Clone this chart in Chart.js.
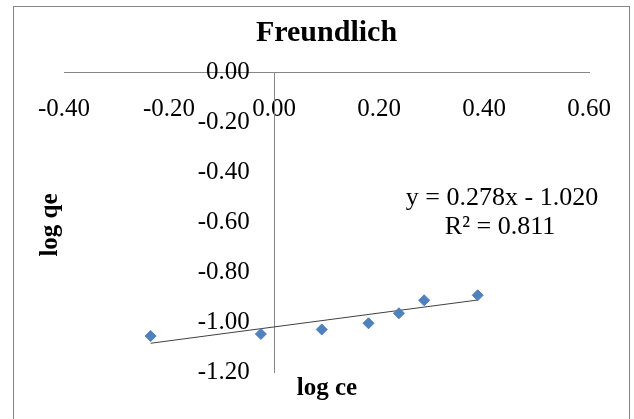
<!DOCTYPE html>
<html>
<head>
<meta charset="utf-8">
<script src="https://cdn.jsdelivr.net/npm/chart.js@4/dist/chart.umd.min.js"></script>
<style>
  html, body { margin: 0; padding: 0; background: #fff; }
  #wrap { width: 634px; height: 419px; }
</style>
</head>
<body>
<div id="wrap"><canvas id="freundlich" width="634" height="419"></canvas></div>
<script>
// values
const logCe = [-0.235, -0.025, 0.091, 0.180, 0.238, 0.286, 0.388];
const logQe = [-1.056, -1.048, -1.030, -1.005, -0.965, -0.913, -0.893];

// linear trendline ends (y = 0.278x - 1.020)
const trendCe = [-0.235, 0.388];
const trendQe = [-1.085, -0.912];

const xMin = -0.4, xMax = 0.6, xStep = 0.2;
const yMin = -1.2, yMax = 0, yStep = 0.2;

const titleText = 'Freundlich';
const xTitle = 'log ce';
const yTitle = 'log qe';
const equation = ['y = 0.278x - 1.020', 'R\u00b2 = 0.811'];

const serif = "'Liberation Serif', 'Times New Roman', serif";

const points = logCe.map((x, i) => ({ x: x, y: logQe[i] }));
const trend = trendCe.map((x, i) => ({ x: x, y: trendQe[i] }));

// border, axis titles and the equation label
const extras = {
    id: 'extras',
    beforeDraw(chart) {
        const c = chart.ctx;
        c.save();
        c.strokeStyle = '#868686';
        c.lineWidth = 1;
        c.strokeRect(13.5, 6.5, 616, 440);
        c.restore();
    },
    afterDraw(chart) {
        const c = chart.ctx;
        c.save();
        c.fillStyle = '#000';
        c.textAlign = 'center';
        c.textBaseline = 'alphabetic';

        c.font = 'bold 25px ' + serif;
        c.fillText(xTitle, 327, 395);

        c.save();
        c.translate(57, 225);
        c.rotate(-Math.PI / 2);
        c.fillText(yTitle, 0, 0);
        c.restore();

        c.font = '26px ' + serif;
        c.fillText(equation[0], 502, 205);
        c.fillText(equation[1], 500, 234);
        c.restore();
    }
};

const tickFont = { size: 25, family: serif };
const fmt = v => Number(v).toFixed(2);

const ctx = document.getElementById('freundlich');

new Chart(ctx, {
    type: 'scatter',
    data: {
        datasets: [{
            label: 'data',
            data: points,
            pointStyle: 'rectRot',
            pointRadius: 5.5,
            backgroundColor: '#4F81BD',
            borderColor: '#4F81BD',
            borderWidth: 1,
            order: 1
        }, {
            label: 'trend',
            type: 'line',
            data: trend,
            showLine: true,
            pointRadius: 0,
            borderColor: '#404040',
            borderWidth: 1,
            fill: false,
            order: 2
        }]
    },
    options: {
        responsive: false,
        animation: false,
        layout: {
            padding: { left: 64, right: 45, top: 0, bottom: 47 }
        },
        plugins: {
            legend: { display: false },
            tooltip: { enabled: false },
            title: {
                display: true,
                text: titleText,
                color: '#000',
                padding: { top: 15, bottom: 21 },
                font: { size: 30, weight: 'bold', family: serif }
            }
        },
        scales: {
            x: {
                type: 'linear',
                min: xMin,
                max: xMax,
                position: { y: 0 },
                grid: { display: false, drawTicks: false },
                border: { display: true, color: '#868686', width: 1 },
                ticks: {
                    stepSize: xStep,
                    padding: 22,
                    color: '#000',
                    maxRotation: 0,
                    font: tickFont,
                    callback: fmt
                }
            },
            // axis line through x = 0
            y: {
                type: 'linear',
                min: yMin,
                max: yMax,
                position: { x: 0 },
                grid: { display: false, drawTicks: false },
                border: { display: true, color: '#868686', width: 1 },
                ticks: { display: false, stepSize: yStep }
            },
            // y tick labels, set a little left of the axis line
            yLabels: {
                type: 'linear',
                axis: 'y',
                min: yMin,
                max: yMax,
                position: { x: -0.046 },
                grid: { display: false, drawTicks: false },
                border: { display: false },
                ticks: {
                    stepSize: yStep,
                    color: '#000',
                    font: tickFont,
                    callback: fmt
                }
            }
        }
    },
    plugins: [extras]
});
</script>
</body>
</html>
